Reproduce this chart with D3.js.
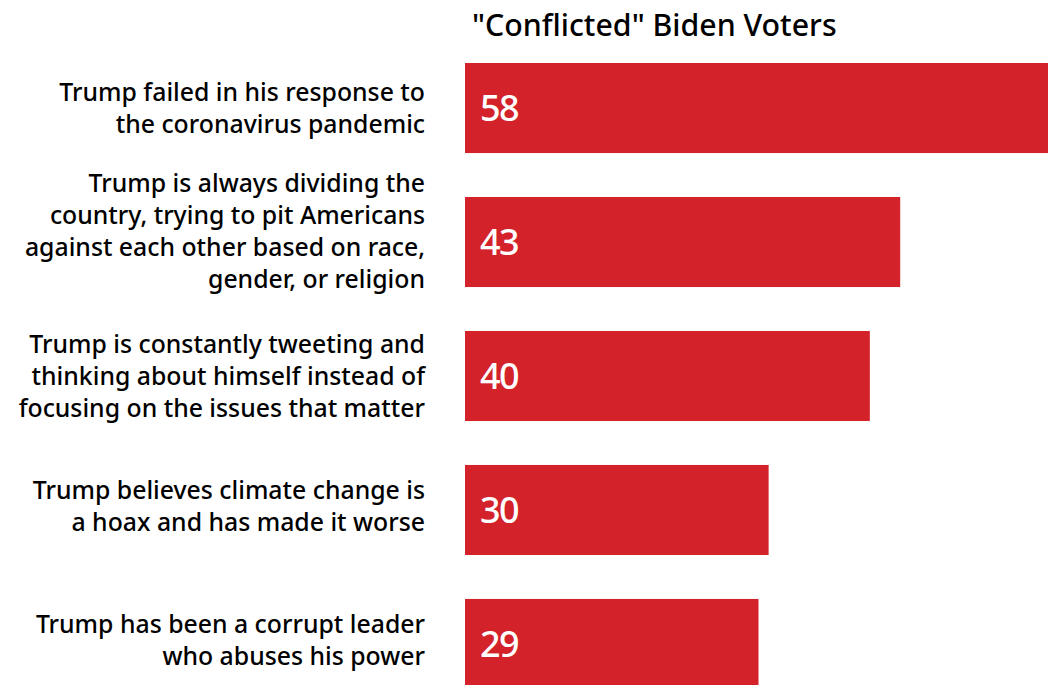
<!DOCTYPE html>
<html><head><meta charset="utf-8">
<script src="https://cdn.jsdelivr.net/npm/d3@7"></script>
<style>html,body{margin:0;padding:0;background:#fff;overflow:hidden}svg{display:block}text{font-family:"Noto Sans",sans-serif;font-weight:500}</style>
</head><body>
<svg id="c" width="1048" height="685"></svg>
<script>
const categories = [
  ["Trump failed in his response to","the coronavirus pandemic"],
  ["Trump is always dividing the","country, trying to pit Americans","against each other based on race,","gender, or religion"],
  ["Trump is constantly tweeting and","thinking about himself instead of","focusing on the issues that matter"],
  ["Trump believes climate change is","a hoax and has made it worse"],
  ["Trump has been a corrupt leader","who abuses his power"]
];
const values = [58, 43, 40, 30, 29];
const title = "\"Conflicted\" Biden Voters";

const svg = d3.select("#c");
const x = d3.scaleLinear().domain([0, 58]).range([465, 1052]);
const y = d3.scaleBand().domain(d3.range(values.length)).range([63, 689]).paddingInner(0.328).paddingOuter(0);

svg.append("text").attr("x", 472).attr("y", 36).attr("font-size", 30.3).attr("fill", "#000").text(title);

svg.selectAll("rect.bar").data(values).join("rect").attr("class","bar")
  .attr("x", x(0)).attr("y", (d,i)=>y(i)).attr("width", d=>x(d)-x(0)).attr("height", y.bandwidth())
  .attr("fill", "#d3222a");

svg.selectAll("text.val").data(values).join("text").attr("class","val")
  .attr("x", x(0)+15).attr("y", (d,i)=>y(i)+y.bandwidth()/2).attr("dy","0.36em")
  .attr("font-size", 36).attr("letter-spacing", -1.5).attr("fill", "#fff").text(d=>d);

const lh = 31.8;
categories.forEach((lines, i) => {
  const cy = y(i) + y.bandwidth()/2 - (lines.length>3?11:(lines.length===2 && i>2?4:0));
  const t = svg.append("text").attr("text-anchor","end").attr("font-size", 24.8).attr("fill","#000");
  lines.forEach((l, j) => {
    t.append("tspan").attr("x", 425).attr("y", cy + (j - (lines.length-1)/2)*lh).attr("dy","0.36em").text(l);
  });
});
</script>
</body></html>
